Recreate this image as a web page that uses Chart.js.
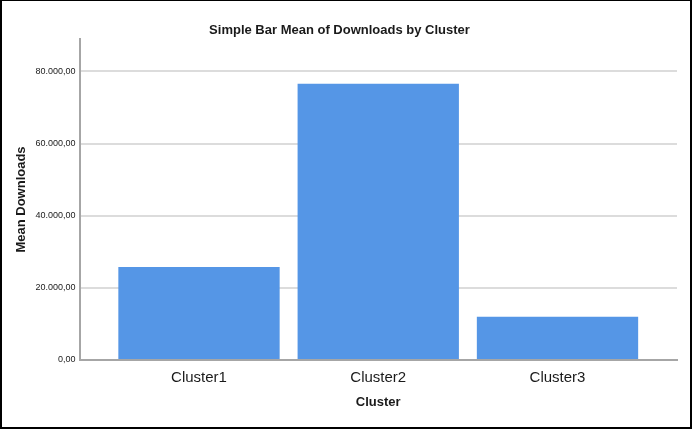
<!DOCTYPE html>
<html>
<head>
<meta charset="utf-8">
<script src="https://cdn.jsdelivr.net/npm/chart.js@4"></script>
<style>
  html, body { margin: 0; padding: 0; background: #fff; }
  #frame {
    position: absolute; left: 0; top: 0;
    width: 692px; height: 429px;
    box-sizing: border-box;
    border: 2px solid #000; border-top-width: 1px;
    background: #fff;
  }
  #chart { display: block; }
</style>
</head>
<body>
<div id="frame"><canvas id="chart" width="688" height="426"></canvas></div>
<script>
// Simple bar: mean downloads per cluster (SPSS style)
const categories = ['Cluster1', 'Cluster2', 'Cluster3'];
const meanDownloads = [25800, 76600, 12000];
const yTickValues = [0, 20000, 40000, 60000, 80000];

const COLORS = {
  bar:   '#5596e6',
  grid:  '#dcdcdc',
  axis:  '#a6a6a6',
  text:  '#1a1a1a'
};

const FONT = "Arial, 'Liberation Sans', sans-serif";

// 80000 -> "80.000,00"
function fmtNum(v) {
  const [i, d] = Number(v).toFixed(2).split('.');
  return i.replace(/\B(?=(\d{3})+(?!\d))/g, '.') + ',' + d;
}

const points = categories.map((c, i) => ({ x: i + 1, y: meanDownloads[i] }));

new Chart(document.getElementById('chart'), {
  type: 'bar',
  data: {
    datasets: [{
      data: points,
      backgroundColor: COLORS.bar,
      borderWidth: 0,
      categoryPercentage: 1,
      barPercentage: 0.9
    }]
  },
  options: {
    responsive: false,
    animation: false,
    layout: { padding: { left: 0, right: 13, top: 0, bottom: 0 } },
    plugins: {
      legend: { display: false },
      tooltip: { enabled: false },
      title: {
        display: true,
        text: 'Simple Bar Mean of Downloads by Cluster',
        color: COLORS.text,
        font: { family: FONT, size: 13, weight: 'bold', lineHeight: 1.2 },
        padding: { top: 22, bottom: 0.4 }
      }
    },
    scales: {
      x: {
        type: 'linear',
        offset: false,
        min: 1 / 3,
        max: 11 / 3,
        afterBuildTicks: s => { s.ticks = categories.map((c, i) => ({ value: i + 1 })); },
        afterFit: s => { s.height = 67; },
        grid: { display: false, drawTicks: false },
        border: { display: true, color: COLORS.axis, width: 2 },
        ticks: {
          autoSkip: false,
          maxRotation: 0,
          padding: 9,
          color: COLORS.text,
          font: { family: FONT, size: 15 },
          callback: v => categories[Math.round(v) - 1] || ''
        },
        title: {
          display: true,
          text: 'Cluster',
          color: COLORS.text,
          font: { family: FONT, size: 13, weight: 'bold', lineHeight: 1.2 },
          padding: { top: 4, bottom: 16.7 }
        }
      },
      y: {
        min: 0,
        max: 89000,
        afterBuildTicks: s => { s.ticks = yTickValues.map(v => ({ value: v })); },
        afterFit: s => { s.width = 77.5; },
        grid: { color: COLORS.grid, lineWidth: 2, drawTicks: false },
        border: { display: true, color: COLORS.axis, width: 2 },
        ticks: {
          padding: 4,
          color: COLORS.text,
          font: { family: FONT, size: 9 },
          callback: v => fmtNum(v)
        },
        title: {
          display: true,
          text: 'Mean Downloads',
          color: COLORS.text,
          font: { family: FONT, size: 13, weight: 'bold', lineHeight: 1.2 },
          padding: { top: 12, bottom: 4 }
        }
      }
    }
  }
});
</script>
</body>
</html>
